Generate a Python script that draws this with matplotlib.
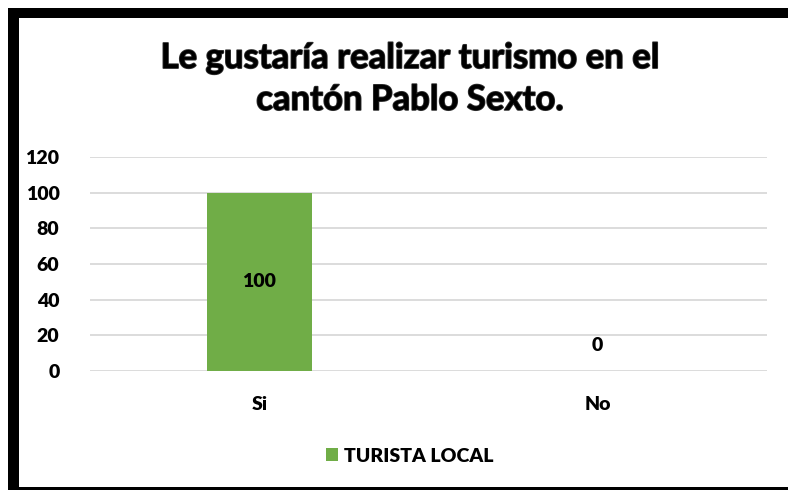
import matplotlib
matplotlib.use("Agg")
import matplotlib.pyplot as plt
import matplotlib.patheffects as pe
from matplotlib.patches import Rectangle, Patch

categories = ["Si", "No"]
values = [100, 0]
series_name = "TURISTA LOCAL"
yticks = [0, 20, 40, 60, 80, 100, 120]
title = "Le gustaría realizar turismo en el\ncantón Pablo Sexto."

plt.rcParams['font.family'] = ['Lato', 'DejaVu Sans']

fig = plt.figure(figsize=(7.88, 4.90), dpi=100)
W, H = 788, 490

# black frame (left, top, bottom)
fig.patches.append(Rectangle((8 / W, 0), 11 / W, (490 - 8) / H, transform=fig.transFigure,
                             facecolor='black', edgecolor='none', zorder=0))
fig.patches.append(Rectangle((8 / W, (490 - 18) / H), (788 - 8) / W, 10 / H, transform=fig.transFigure,
                             facecolor='black', edgecolor='none', zorder=0))
fig.patches.append(Rectangle((19 / W, 0), (788 - 19) / W, 3 / H, transform=fig.transFigure,
                             facecolor='black', edgecolor='none', zorder=0))

ax = fig.add_axes([90 / W, (490 - 371) / H, (767 - 90) / W, (371 - 157) / H])
ax.set_xlim(-0.5, 1.5)
ax.set_ylim(0, 120)

bar_color = '#70AD47'
bars = ax.bar(range(len(categories)), values, width=0.31, color=bar_color, zorder=3,
              path_effects=[pe.SimplePatchShadow(offset=(0, -1.5), shadow_rgbFace='#333333', alpha=0.35),
                            pe.Normal()])

for i, v in enumerate(values):
    off = 0 if v > 0 else 26
    ax.annotate(str(v), (i, v / 2), xytext=(0, off), textcoords='offset pixels',
                ha='center', va='center', fontsize=14, fontweight='heavy', color='black', zorder=4)

ax.set_yticks(yticks)
ax.set_yticklabels([str(t) for t in yticks], fontsize=14, fontweight='heavy')
ax.set_xticks(range(len(categories)))
ax.set_xticklabels(categories, fontsize=14, fontweight='heavy')
ax.tick_params(axis='both', length=0)
ax.tick_params(axis='y', pad=22)
ax.tick_params(axis='x', pad=18)
ax.grid(axis='y', color='#D9D9D9', linewidth=1.3, zorder=0)
for s in ax.spines.values():
    s.set_visible(False)

fig.text(410 / W, 1 - 79 / H, title, ha='center', va='center', fontsize=25, fontweight='bold',
         linespacing=1.38, color='black',
         path_effects=[pe.withStroke(linewidth=1.2, foreground='#333333')])

handle = Patch(facecolor=bar_color, edgecolor='none')
fig.legend(handles=[handle], labels=[series_name], loc='center', bbox_to_anchor=(410 / W, 1 - 456 / H),
           frameon=False, prop={'size': 14, 'weight': 'heavy'}, handlelength=0.6, handleheight=0.6,
           handletextpad=0.3)

fig.savefig("out.png", dpi=100)
